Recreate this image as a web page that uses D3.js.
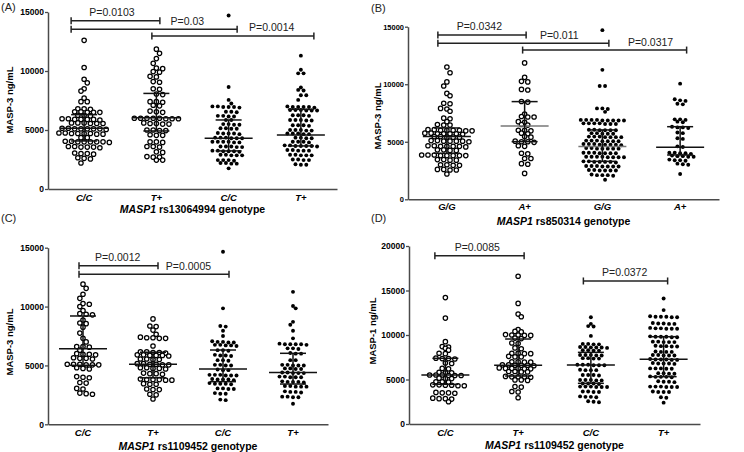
<!DOCTYPE html>
<html><head><meta charset="utf-8">
<script src="https://cdn.jsdelivr.net/npm/d3@7"></script>
<style>body{margin:0;background:#fff}svg{display:block}text{font-family:"Liberation Sans",Arial,sans-serif}</style>
</head><body>
<svg id="c" width="744" height="452"></svg>
<script>
// ---------- categories ----------
const catsA = ["C/C","T+","C/C","T+"];
const catsB = ["G/G","A+","G/G","A+"];
const catsC = ["C/C","T+","C/C","T+"];
const catsD = ["C/C","T+","C/C","T+"];
const ticks15 = [0,5000,10000,15000];
const ticks20 = [0,5000,10000,15000,20000];

// ---------- Panel A: MASP-3 by rs13064994 ----------
const A1 = [12600,10300,9300,9000,8500,8300,7700,7400,7400,6800,6800,6750,6550,6550,6500,6500,6500,6250,6250,6200,5950,5950,5900,5900,5900,5900,5850,5600,5600,5600,5550,5550,5550,5150,5150,5100,5100,5100,5100,5100,5050,4750,4750,4700,4700,4700,4700,4650,4650,4350,4350,4050,4050,4000,4000,4000,4000,4000,3950,3600,3600,3550,3550,3550,3500,3050,3000,3000,2950,2650,2600,2550,2200];
const A2 = [11850,11500,11050,10650,10250,10200,9950,9900,9550,9500,9100,9050,8500,8450,8050,8000,7400,7400,7350,7100,7050,6600,6550,6500,6000,6000,6000,6000,6000,5950,5950,5950,5600,5550,5550,5500,5500,5000,5000,4950,4950,4600,4550,4550,4000,4000,3950,3600,3600,3550,3150,3100,2750,2700,2700,2450,2450];
const A3 = [14700,8650,7550,7250,7000,7000,6950,6950,6950,6900,6550,6550,6500,6200,6200,6150,6150,5850,5850,5500,5500,5450,5450,5150,5150,5100,5100,4750,4700,4700,4700,4650,4350,4350,4350,4300,4300,4300,4000,4000,4000,4000,3950,3950,3600,3600,3600,3550,3550,3250,3250,3200,3200,3200,3150,2900,2900,2850,2850,2850,2450,2450,2450,2400,2200,2200,2150,2150,1750];
const A4 = [11300,10100,9800,9800,8600,8400,8350,7950,7950,7550,7000,6950,6950,6950,6950,6900,6700,6700,6700,6650,6650,6650,6250,6250,6250,6200,5850,5850,5850,5800,5800,5400,5400,5400,5350,5000,5000,5000,4950,4950,4700,4700,4700,4650,4650,4350,4350,4300,4300,4000,4000,4000,3950,3700,3700,3650,3650,3650,3650,3600,3300,3300,3250,3250,3250,2900,2900,2850,2850,2850,2500,2500,2450,2450,2100,2050,2050];
const medA = [5140,6040,4300,4580];
const q1A  = [4070,4920,3230,3650];
const q3A  = [6300,8100,5850,6750];

// ---------- Panel B: MASP-3 by rs850314 ----------
const B1 = [11500,11000,10200,9850,9200,9000,8350,8300,7900,7850,7650,7050,7000,6750,6500,6450,6450,6050,6050,6000,6000,6000,6000,5950,5950,5750,5750,5700,5700,5700,5700,5650,5450,5450,5400,5400,5400,5100,5100,5050,5050,5050,5050,5000,4650,4650,4600,4600,4600,4600,4550,4300,4300,4250,4250,3850,3850,3850,3800,3800,3800,3800,3800,3450,3450,3400,3400,3000,3000,2950,2950,2600,2600,2550,2550,2200];
const B2 = [11850,10600,10250,10200,9550,9500,8500,8450,7400,7200,7150,7150,6750,6700,6500,6450,6000,6000,5950,5750,5700,5450,5400,5050,5000,5000,4950,4650,4600,4000,3950,3550,3550,3100,3050,2250];
const B3 = [14700,11250,9850,9850,7900,7900,7850,7600,6900,6900,6900,6900,6850,6850,6850,6850,6850,6600,6600,6600,6600,6550,6550,6550,6050,6050,6000,6000,6000,6000,5750,5750,5700,5700,5700,5450,5450,5450,5400,5400,5400,5400,5100,5100,5100,5050,5050,5050,5050,4800,4800,4800,4750,4750,4750,4750,4700,4450,4450,4400,4400,4400,4400,4400,4050,4050,4050,4000,4000,4000,4000,3700,3700,3700,3700,3650,3650,3650,3650,3300,3300,3250,3250,3250,3250,3200,2900,2900,2900,2850,2850,2850,2850,2550,2550,2500,2500,2500,2500,2150,2100,2100,2100,2050,1700];
const B4 = [10050,8700,8600,8550,8300,8250,6950,6950,6900,6750,6700,6300,6250,6250,6200,5800,5750,5300,5250,4600,4550,4050,4050,4000,4000,3950,3800,3750,3750,3700,3700,3450,3400,3400,3350,3100,3050,3000,2200];
const medB = [5450,6370,4580,4520];
const q1B  = [4000,5010,3300,3850];
const q3B  = [6200,8490,6030,6310];

// ---------- Panel C: MASP-3 by rs1109452 ----------
const C1 = [11900,11550,11050,10700,10250,10200,10000,9650,9400,9350,9300,8850,8600,8550,8250,7750,7300,7000,6600,6600,6550,6300,6000,5950,5950,5900,5650,5600,5600,5550,5100,5100,5100,5050,5050,5050,4800,4750,4700,4050,4000,3950,3550,3500,3050,3000,2650,2600,2550];
const C2 = [8950,8350,8300,8000,7650,7400,7350,7350,7300,7300,6650,6150,6150,6100,6100,6050,5900,5900,5850,5850,5850,5800,5550,5550,5500,5500,5150,5150,5100,5100,5050,5050,4800,4800,4750,4750,4700,4350,4300,4300,4250,3850,3800,3800,3800,3750,3750,3450,3400,3400,3000,2950,2950,2550,2500,2150];
const C3 = [14650,9850,8350,8300,7950,7500,7050,7000,7000,6950,6950,6750,6750,6700,6700,6650,6300,6300,6250,5900,5850,5850,5800,5450,5450,5400,5050,5050,5000,5000,4650,4600,4600,4200,4200,4200,4150,4150,4150,3850,3800,3800,3800,3750,3500,3450,3450,3450,3400,3050,3050,3000,3000,2650,2600,2600,2100,2050];
const C4 = [11250,10050,9850,8700,8450,7950,7300,6850,6800,6800,6800,6800,6750,6450,6450,6400,6050,6000,6000,5450,5450,5050,5050,5000,5000,5000,4750,4750,4700,4700,4400,4400,4350,4350,4350,4050,4050,4000,4000,4000,3650,3600,3600,3600,3550,3250,3250,3200,3200,3200,2800,2750,2750,2700,2350,2350,2300,2300,1750];
const medC = [6420,5100,4700,4390];
const q1C  = [5010,3950,3620,3420];
const q3C  = [9200,6120,6310,6030];

// ---------- Panel D: MASP-1 by rs1109452 ----------
const D1 = [14200,11900,9250,8700,8650,8500,8300,7950,7900,7400,7350,7350,7300,6850,6800,6250,6200,5800,5750,5750,5500,5500,5500,5450,5450,5450,5150,5100,5100,4750,4750,4700,4400,4400,4350,4350,4300,4300,3550,3500,3500,3450,2900,2850,2850,2800,2500];
const D2 = [16600,13550,12350,12050,10600,10400,10350,10050,10000,10000,9950,9950,9650,9600,9100,9050,8550,8450,7950,7950,7900,7900,7600,7550,7550,7000,7000,6950,6950,6650,6650,6600,6600,6600,6550,6300,6250,6250,6250,6200,6200,5900,5900,5850,5850,5350,5300,5300,5300,5250,4950,4950,4900,4200,4150,3650,3600,2950];
const D3 = [12000,11250,11000,10950,9900,9000,9000,8950,8950,8650,8650,8600,8600,8600,8550,8300,8300,8250,8250,7750,7750,7750,7700,7700,7400,7400,7350,7350,6650,6650,6650,6600,6600,6600,6100,6050,6050,6050,5500,5500,5500,5450,4950,4950,4950,4900,4900,4550,4550,4550,4500,4200,4200,4200,4150,4150,4150,3650,3650,3600,3600,3100,3050,3050,3000,2550,2500,2450];
const D4 = [14100,12800,12100,12050,12050,12050,12000,12000,11350,11300,11300,11250,11250,10800,10750,10750,10700,10700,10700,9850,9800,9800,9800,9750,9750,9250,9250,9200,9200,9200,8800,8750,8750,8700,8700,8150,8100,8100,8100,7750,7750,7700,7700,7700,7300,7250,7250,7250,7200,7200,6850,6800,6800,6800,6750,6250,6250,6250,6200,6200,5700,5700,5650,5650,5350,5300,5300,5300,5250,4800,4750,4750,4700,4200,4200,4200,4150,4150,4150,3650,3600,3600,3600,3000,2950,2400];
const medD = [5500,6590,6630,7270];
const q1D  = [4460,5390,4570,5320];
const q3D  = [7380,9550,8050,9810];

// ---------- significance brackets (group indices, y value, label) ----------
const brA = [{from:0,to:1,y:14260,label:"P=0.0103"},{from:0,to:2,y:13530,label:"P=0.03"},{from:1,to:3,y:12970,label:"P=0.0014"}];
const brB = [{from:0,to:1,y:14280,label:"P=0.0342"},{from:0,to:2,y:13560,label:"P=0.011"},{from:1,to:3,y:12970,label:"P=0.0317"}];
const brC = [{from:0,to:1,y:13470,label:"P=0.0012"},{from:0,to:2,y:12740,label:"P=0.0005"}];
const brD = [{from:0,to:1,y:18910,label:"P=0.0085"},{from:2,to:3,y:16070,label:"P=0.0372"}];

// ---------- layout / styling ----------
const panels = [
  {tag:"(A)", tagXY:[1,11], cats:catsA, groups:[A1,A2,A3,A4], open:[true,true,false,false],
   med:medA,q1:q1A,q3:q3A, medStroke:["#111","#111","#111","#111"],
   br:brA, brNudge:[[-13,3.5],[-13,8.5],[-4.5,13]], brLab:[0.46,0.70,0.74],
   xr:[48,337], yr:[189,12], ymax:15000, ticks:ticks15, tickFont:8.5,
   ytitle:"MASP-3 ng/mL", ytXY:[13,100], snp:"rs13064994", catY:200.5, titleY:212.5},
  {tag:"(B)", tagXY:[371,12], cats:catsB, groups:[B1,B2,B3,B4], open:[true,true,false,false],
   med:medB,q1:q1B,q3:q3B, medStroke:["#111","#777","#777","#111"],
   br:brB, brNudge:[[-9,1.5],[-9,6.5],[-2,6.5]], brLab:[0.47,0.71,0.78],
   xr:[408,719], yr:[199.3,26.7], ymax:15000, ticks:ticks15, tickFont:7.5,
   ytitle:"MASP-3 ng/mL", ytXY:[381,116], snp:"rs850314", catY:210.5, titleY:225},
  {tag:"(C)", tagXY:[1,222], cats:catsC, groups:[C1,C2,C3,C4], open:[true,true,false,false],
   med:medC,q1:q1C,q3:q3C, medStroke:["#111","#111","#111","#111"],
   br:brC, brNudge:[[-4,5],[-4,6]], brLab:[0.49,0.73],
   xr:[48,328], yr:[424.3,247.7], ymax:15000, ticks:ticks15, tickFont:8.5,
   ytitle:"MASP-3 ng/mL", ytXY:[13,342], snp:"rs1109452", catY:436, titleY:449.5},
  {tag:"(D)", tagXY:[371,222], cats:catsD, groups:[D1,D2,D3,D4], open:[true,true,false,false],
   med:medD,q1:q1D,q3:q3D, medStroke:["#111","#111","#111","#111"],
   br:brD, brNudge:[[-10.5,6],[-7.5,4]], brLab:[0.475,0.49],
   xr:[409,700], yr:[424,246], ymax:20000, ticks:ticks20, tickFont:8.5,
   ytitle:"MASP-1 ng/mL", ytXY:[376,331], snp:"rs1109452", catY:436, titleY:449}
];

const svg = d3.select("#c");
svg.append("rect").attr("width",744).attr("height",452).attr("fill","#fff");
const AX = "#4a4a4a";

// Prism-like row layout: near-equal values share a row, centred on the column
function rowLayout(vals, y, s){
  const pts = vals.map(v=>({v, py:y(v)})).sort((a,b)=>a.py-b.py);
  const rows = []; let cur = null;
  pts.forEach(p=>{
    if(!cur || p.py - cur.last > 1.2){ cur = {pts:[], last:p.py}; rows.push(cur); }
    cur.pts.push(p); cur.last = p.py;
  });
  let prev = null, flip = 1;
  rows.forEach(r=>{
    const n = r.pts.length;
    r.y = d3.mean(r.pts, p=>p.py);
    let phase = (n%2===0) ? s/2 : 0, shift = 0;
    if(prev && Math.abs(r.y-prev.y) < s*0.95 && Math.abs(phase-prev.phase) < 0.01){
      shift = flip*s/2; flip = -flip; phase = (phase + s/2) % s;
    }
    r.phase = phase;
    r.pts.forEach((p,j)=>{ p.dx = (j-(n-1)/2)*s + shift; });
    prev = r;
  });
  return pts;
}

panels.forEach(P=>{
  const g = svg.append("g");
  const x = d3.scaleBand().domain(d3.range(4)).range(P.xr);
  const cx = i => x(i)+x.bandwidth()/2;
  const y = d3.scaleLinear().domain([0,P.ymax]).range(P.yr);

  // y axis
  const ya = g.append("g").attr("transform",`translate(${P.xr[0]},0)`)
    .call(d3.axisLeft(y).tickValues(P.ticks).tickSize(3).tickSizeOuter(0).tickPadding(1).tickFormat(d3.format("d")));
  ya.select(".domain").attr("stroke",AX).attr("stroke-width",1.5);
  ya.selectAll(".tick line").attr("stroke",AX).attr("stroke-width",1.3);
  ya.selectAll(".tick text").attr("fill","#000").style("font-size",P.tickFont+"px").style("font-weight","bold")
    .style("font-family","'Liberation Sans',Arial,sans-serif");

  // x axis
  const xa = g.append("g").attr("transform",`translate(0,${P.yr[0]})`)
    .call(d3.axisBottom(x).tickSize(0).tickSizeOuter(0).tickFormat(i=>P.cats[i]));
  xa.select(".domain").attr("stroke",AX).attr("stroke-width",1.5);
  xa.selectAll(".tick text").attr("y", P.catY-P.yr[0]).attr("dy",0).attr("fill","#000")
    .style("font-size","9.5px").style("font-weight","bold").style("font-style","italic")
    .style("font-family","'Liberation Sans',Arial,sans-serif");

  // points
  P.groups.forEach((vals,i)=>{
    const open = P.open[i];
    const s = open ? 6.3 : 5.4;
    const pts = rowLayout(vals, y, s);
    g.append("g").selectAll("circle").data(pts).join("circle")
      .attr("cx",d=>cx(i)+d.dx).attr("cy",d=>d.py)
      .attr("r", open?2.2:1.95)
      .attr("fill", open?"#fff":"#000")
      .attr("stroke", open?"#000":"none").attr("stroke-width",1.25);
  });

  // median & IQR
  P.groups.forEach((vals,i)=>{
    const c = cx(i), mw = 24, qw = 13;
    const lg = g.append("g").attr("stroke","#111").attr("stroke-width",1.5);
    lg.append("line").attr("x1",c-mw).attr("x2",c+mw).attr("y1",y(P.med[i])).attr("y2",y(P.med[i])).attr("stroke",P.medStroke[i]);
    lg.append("line").attr("x1",c-qw).attr("x2",c+qw).attr("y1",y(P.q1[i])).attr("y2",y(P.q1[i]));
    lg.append("line").attr("x1",c-qw).attr("x2",c+qw).attr("y1",y(P.q3[i])).attr("y2",y(P.q3[i]));
    lg.append("line").attr("x1",c).attr("x2",c).attr("y1",y(P.q1[i])).attr("y2",y(P.q3[i]));
  });

  // brackets
  P.br.forEach((b,k)=>{
    const x1 = cx(b.from)+P.brNudge[k][0], x2 = cx(b.to)+P.brNudge[k][1], yy = y(b.y);
    const bg = g.append("g").attr("stroke","#222").attr("stroke-width",1.5);
    bg.append("line").attr("x1",x1).attr("x2",x2).attr("y1",yy).attr("y2",yy);
    bg.append("line").attr("x1",x1).attr("x2",x1).attr("y1",yy-3.5).attr("y2",yy+3.5);
    bg.append("line").attr("x1",x2).attr("x2",x2).attr("y1",yy-3.5).attr("y2",yy+3.5);
    g.append("text").attr("x",x1+(x2-x1)*P.brLab[k]).attr("y",yy-4.5)
      .attr("text-anchor","middle").style("font-size","10.5px").attr("fill","#222").text(b.label);
  });

  // titles
  g.append("text").attr("transform",`translate(${P.ytXY[0]},${P.ytXY[1]}) rotate(-90)`)
    .attr("text-anchor","middle").style("font-size","9.5px").style("font-weight","bold").text(P.ytitle);
  const xt = g.append("text").attr("x",(P.xr[0]+P.xr[1])/2).attr("y",P.titleY)
    .attr("text-anchor","middle").style("font-size","10.5px").style("font-weight","bold");
  xt.append("tspan").style("font-style","italic").text("MASP1");
  xt.append("tspan").text(" "+P.snp+" genotype");
  g.append("text").attr("x",P.tagXY[0]).attr("y",P.tagXY[1]).style("font-size","11px").attr("fill","#222").text(P.tag);
});
</script>
</body></html>
